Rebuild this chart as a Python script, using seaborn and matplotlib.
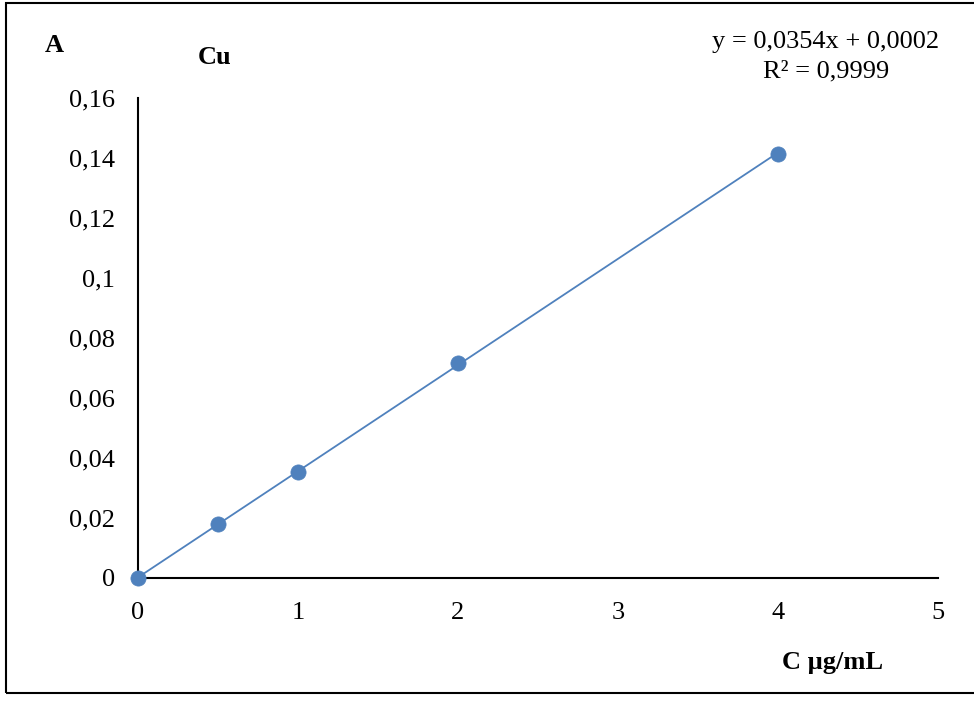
import matplotlib
matplotlib.use("Agg")
import matplotlib.pyplot as plt
import seaborn as sns
import numpy as np
import pandas as pd
from matplotlib.patches import Rectangle

# data
conc = [0, 0.5, 1, 2, 4]
absorb = [0.0, 0.018, 0.0353, 0.0717, 0.1415]
slope = 0.0354
intercept = 0.0002
x_ticks = [0, 1, 2, 3, 4, 5]
x_tick_labels = ["0", "1", "2", "3", "4", "5"]
y_ticks = [0, 0.02, 0.04, 0.06, 0.08, 0.1, 0.12, 0.14, 0.16]
y_tick_labels = ["0", "0,02", "0,04", "0,06", "0,08", "0,1", "0,12", "0,14", "0,16"]
equation_text = "y = 0,0354x + 0,0002"
r2_text = "R² = 0,9999"

sns.set_style("white")
plt.rcParams["font.family"] = ["Liberation Serif", "DejaVu Serif"]
plt.rcParams["text.color"] = "black"

W, H = 974, 702
fig = plt.figure(figsize=(W / 100, H / 100), dpi=100)
ax = fig.add_axes([138 / W, (H - 578) / H, 800 / W, 480 / H])

color = "#4F81BD"
FS = 19
df = pd.DataFrame({"C": conc, "A": absorb})
fit_x = [min(conc), max(conc)]
fit = pd.DataFrame({"C": fit_x, "A": [slope * v + intercept for v in fit_x]})
sns.lineplot(data=fit, x="C", y="A", ax=ax, color=color, linewidth=1.3, zorder=2)
sns.scatterplot(data=df, x="C", y="A", ax=ax, color=color, s=120, edgecolor=color,
                linewidth=0.5, zorder=3, clip_on=False)

ax.set_xlim(0, 5)
ax.set_ylim(0, 0.16)
ax.set_xticks(x_ticks)
ax.set_xticklabels(x_tick_labels)
ax.set_yticks(y_ticks)
ax.set_yticklabels(y_tick_labels)
ax.tick_params(axis="both", length=0, labelsize=FS, colors="black")
ax.tick_params(axis="y", pad=16.5)
ax.tick_params(axis="x", pad=17)
ax.set_xlabel("")
ax.set_ylabel("")
for s in ["top", "right"]:
    ax.spines[s].set_visible(False)
for s in ["left", "bottom"]:
    ax.spines[s].set_color("black")
    ax.spines[s].set_linewidth(1.5)
ax.set_facecolor("none")

# figure border
fig.add_artist(Rectangle((6 / W, 9 / H), 1.1, (693 - 3) / H, transform=fig.transFigure,
                         fill=False, edgecolor="black", linewidth=1.5))

fig.text(54 / W, 1 - 45 / H, "A", fontsize=FS, fontweight="bold", ha="center", va="center", color="black")
fig.text(215 / W, 1 - 57 / H, "Cu", fontsize=FS, fontweight="bold", ha="center", va="center", color="black")
fig.text(826 / W, 1 - 42 / H, equation_text, fontsize=FS, ha="center", va="center", color="black")
fig.text(826 / W, 1 - 71 / H, r2_text, fontsize=FS, ha="center", va="center", color="black")
fig.text(833 / W, 1 - 662 / H, "C µg/mL", fontsize=FS, fontweight="bold", ha="center", va="center", color="black")

fig.savefig("out.png", dpi=100, facecolor="white")
